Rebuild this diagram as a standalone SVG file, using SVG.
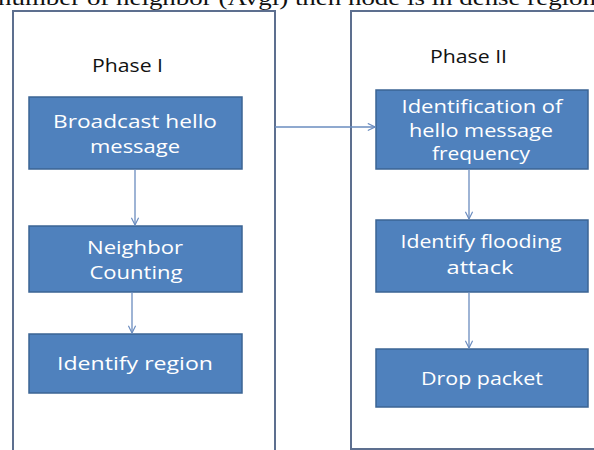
<svg xmlns="http://www.w3.org/2000/svg" width="594" height="450" viewBox="0 0 594 450">
<defs>
<marker id="ah" viewBox="0 0 10 10" refX="9" refY="5" markerWidth="9" markerHeight="9" markerUnits="userSpaceOnUse" orient="auto">
<path d="M1,1 L9,5 L1,9" fill="none" stroke="#6a8cbf" stroke-width="1.3"/>
</marker>
<style>
.panel{fill:#fff;stroke:#5d6f8f;stroke-width:2}
.box{fill:#4f81bd;stroke:#3b6494;stroke-width:1.5}
.bt{font-family:"Open Sans","Liberation Sans",sans-serif;font-size:18px;fill:#fff;text-anchor:middle}
.ph{font-family:"Open Sans","Liberation Sans",sans-serif;font-size:18px;fill:#111;text-anchor:middle}
.cn{fill:none;stroke:#6a8cbf;stroke-width:1.3;marker-end:url(#ah)}
.top{font-family:"Liberation Serif",serif;font-size:21px;fill:#111}
</style>
</defs>
<rect width="594" height="450" fill="#fff"/>
<text class="top" x="-2" y="5" textLength="598" lengthAdjust="spacingAndGlyphs">number of neighbor (Avgl) then node is in dense region</text>
<g id="phase1">
<rect class="panel" x="13" y="11" width="262" height="450"/>
<text class="ph" x="127.5" y="72" textLength="71" lengthAdjust="spacingAndGlyphs">Phase I</text>
</g>
<g id="phase2">
<rect class="panel" x="351" y="11" width="260" height="438"/>
<text class="ph" x="468.5" y="63" textLength="77" lengthAdjust="spacingAndGlyphs">Phase II</text>
</g>
<g id="n1">
<rect class="box" x="29" y="97" width="213" height="72"/>
<text class="bt" x="135" y="128" textLength="164" lengthAdjust="spacingAndGlyphs">Broadcast  hello</text>
<text class="bt" x="135" y="153" textLength="90" lengthAdjust="spacingAndGlyphs">message</text>
</g>
<g id="n2">
<rect class="box" x="29" y="226" width="213" height="66"/>
<text class="bt" x="135" y="254" textLength="96" lengthAdjust="spacingAndGlyphs">Neighbor</text>
<text class="bt" x="136" y="279" textLength="93" lengthAdjust="spacingAndGlyphs">Counting</text>
</g>
<g id="n3">
<rect class="box" x="29" y="334" width="213" height="59"/>
<text class="bt" x="135" y="370" textLength="156" lengthAdjust="spacingAndGlyphs">Identify  region</text>
</g>
<g id="n4">
<rect class="box" x="376" y="90" width="212" height="79"/>
<text class="bt" x="482" y="113" textLength="161" lengthAdjust="spacingAndGlyphs">Identification of</text>
<text class="bt" x="481" y="137" textLength="144" lengthAdjust="spacingAndGlyphs">hello message</text>
<text class="bt" x="481" y="160" textLength="98" lengthAdjust="spacingAndGlyphs">frequency</text>
</g>
<g id="n5">
<rect class="box" x="376" y="220" width="212" height="72"/>
<text class="bt" x="481" y="248" textLength="161" lengthAdjust="spacingAndGlyphs">Identify flooding</text>
<text class="bt" x="480" y="274" textLength="67" lengthAdjust="spacingAndGlyphs">attack</text>
</g>
<g id="n6">
<rect class="box" x="376" y="349" width="212" height="58"/>
<text class="bt" x="482" y="385" textLength="122" lengthAdjust="spacingAndGlyphs">Drop packet</text>
</g>
<g id="connectors">
<line class="cn" x1="135" y1="169" x2="135" y2="225"/>
<line class="cn" x1="132" y1="292" x2="132" y2="333"/>
<line class="cn" x1="275" y1="127" x2="375" y2="127"/>
<line class="cn" x1="469" y1="169" x2="469" y2="219"/>
<line class="cn" x1="469" y1="292" x2="469" y2="348"/>
</g>
</svg>
